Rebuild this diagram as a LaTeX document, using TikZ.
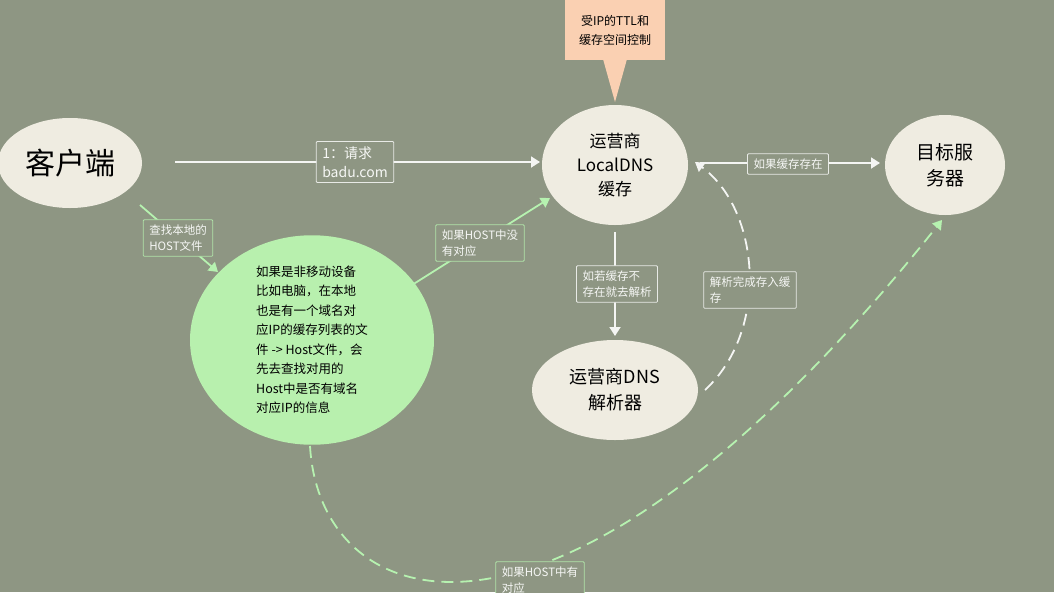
\documentclass[tikz,border=0pt]{standalone}
\usepackage{fontspec}
\setmainfont{Noto Sans CJK SC}
\usetikzlibrary{arrows.meta,positioning,shapes.geometric}
\definecolor{bgolive}{HTML}{8E9683}
\definecolor{creamfill}{HTML}{EFECE1}
\definecolor{mintfill}{HTML}{B8F0AE}
\definecolor{mintline}{HTML}{B6F2B0}
\definecolor{peachfill}{HTML}{FAD0B2}
\begin{document}
\begin{tikzpicture}[x=1pt,y=-1pt,
  bubble/.style={ellipse,fill=creamfill,inner sep=0pt,align=center,text=black},
  tagbox/.style={draw=white!80!bgolive,line width=0.8pt,rounded corners=1pt,fill=bgolive,
    text=white!92!bgolive,font=\fontsize{11.5}{16}\selectfont,align=left,inner xsep=6pt,inner ysep=5pt},
  greentag/.style={tagbox,draw=mintline!85!bgolive},
  flow/.style={white!90!bgolive,line width=1.8pt,-{Triangle[length=9pt,width=11pt]}},
  greenflow/.style={mintline,line width=1.8pt,-{Triangle[length=9pt,width=11pt]}}]
  \fill[bgolive] (0,0) rectangle (1054,592);
  \useasboundingbox (0,0) rectangle (1054,592);
  % Bubbles
  \node[bubble,minimum width=144,minimum height=90,font=\fontsize{30}{34}\selectfont] (client) at (70,163) {客户端};
  \node[bubble,minimum width=146,minimum height=120,font=\fontsize{17}{24}\selectfont] (local) at (615,165) {运营商\\LocalDNS\\缓存};
  \node[bubble,minimum width=120,minimum height=100,font=\fontsize{19}{26}\selectfont] (target) at (945,165) {目标服\\务器};
  \node[bubble,minimum width=166,minimum height=100,font=\fontsize{18}{26}\selectfont] (resolver) at (615,390) {运营商DNS\\解析器};
  \node[bubble,fill=mintfill,minimum width=244,minimum height=180,font=\fontsize{12.5}{19.5}\selectfont,align=left] (hostfile) at (312,340)
    {如果是非移动设备\\比如电脑，在本地\\也是有一个域名对\\应IP的缓存列表的文\\件 -> Host文件，会\\先去查找对用的\\Host中是否有域名\\对应IP的信息};
  % Note on top
  \node[fill=peachfill,minimum width=100,minimum height=60,font=\fontsize{12}{19}\selectfont,align=center] (note) at (615,30) {受IP的TTL和\\缓存空间控制};
  \fill[peachfill] (603,59) -- (627,59) -- (615,102) -- cycle;
  % Connections
  \coordinate (c1) at (175,162);
  \coordinate (l1) at (540,162);
  \draw[flow] (c1) -- (l1);
  \node[tagbox,font=\fontsize{14}{19}\selectfont] (ask) at (355,162) {1：请求\\badu.com};
  \draw[flow] (700,163) -- (880,163);
  \node[tagbox] (hit) at (788,164) {如果缓存存在};
  \draw[greenflow] (140,205) -- (218,272);
  \node[greentag] (lookup) at (178,238) {查找本地的\\HOST文件};
  \draw[greenflow] (412,285) -- (550,198);
  \node[greentag] (miss) at (480,243) {如果HOST中没\\有对应};
  \draw[flow] (615,232) -- (615,336);
  \node[tagbox] (goresolve) at (617,284) {如若缓存不\\存在就去解析};
  \draw[flow,dashed,dash pattern=on 12pt off 7pt] (705,390) .. controls (770,330) and (760,210) .. (695,162);
  \node[tagbox] (store) at (750,290) {解析完成存入缓\\存};
  \draw[greenflow,dashed,dash pattern=on 12pt off 7pt] (310,446) .. controls (320,620) and (560,700) .. (942,220);
  \node[greentag] (hithost) at (540,580) {如果HOST中有\\对应};
\end{tikzpicture}
\end{document}
